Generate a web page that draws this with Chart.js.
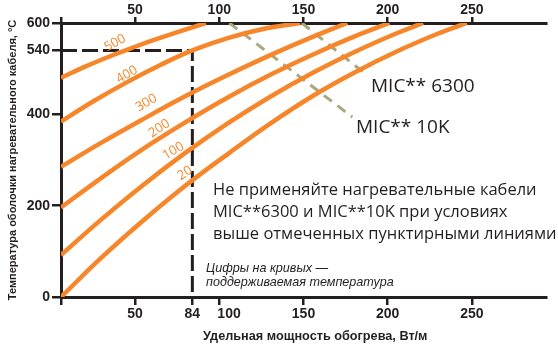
<!DOCTYPE html>
<html><head><meta charset="utf-8">
<script src="https://cdn.jsdelivr.net/npm/chart.js@4.4.1/dist/chart.umd.min.js"></script>
<style>html,body{margin:0;padding:0;background:#fff;}#wrap{width:558px;height:356px;}</style>
</head><body><div id="wrap"><canvas id="c" width="558" height="356"></canvas></div>
<script>
// ---- data ----
const maintainTemps = ['500', '400', '300', '200', '100', '20'];
const power500 = [6, 20, 37, 50, 63, 77, 92];
const temp500  = [480, 504, 530, 548, 565, 582, 600];
const power400 = [6, 25, 45, 65, 84, 105, 126, 148];
const temp400  = [384, 428, 470, 508, 540, 567, 587, 600];
const power300 = [6, 30, 55, 80, 105, 130, 155, 176];
const temp300  = [285, 338, 390, 440, 486, 529, 569, 600];
const power200 = [6, 30, 55, 80, 105, 130, 155, 180, 201];
const temp200  = [196, 261, 325, 383, 437, 486, 530, 570, 600];
const power100 = [6, 30, 55, 80, 105, 130, 155, 180, 205, 221];
const temp100  = [92, 170, 246, 316, 380, 438, 490, 536, 577, 600];
const power20  = [6, 30, 55, 80, 105, 130, 155, 180, 205, 230, 247];
const temp20   = [0, 86, 168, 244, 313, 379, 439, 491, 537, 577, 600];
const mic6300Power = [149, 187];
const mic6300Temp  = [600, 488];
const mic10kPower  = [106, 179];
const mic10kTemp   = [600, 394];
const guidePower = [6, 84, 84];
const guideTemp  = [540, 540, 0];
const xTicks  = [50, 84, 100, 150, 200, 250];
const x2Ticks = [50, 100, 150, 200, 250];
const yTicks  = [0, 200, 400, 540, 600];
const xMin = 6, xMax = 294, yMin = 0, yMax = 600;

// ---- styling / layout ----
const ORANGE = '#f7862a', OLIVE = '#aba77d', INK = '#231f20';
const labelAnchors = [ // [power, temp, angleDeg] for curve labels
  [38.1, 556, -28], [45.1, 487, -30], [56.7, 425, -31], [64.4, 369, -33], [72.7, 320, -31], [79.6, 271, -33]
];
const pts = (xs, ys) => xs.map((v, i) => ({x: v, y: ys[i]}));
const curves = [[power500,temp500],[power400,temp400],[power300,temp300],[power200,temp200],[power100,temp100],[power20,temp20]];

const datasets = curves.map((c, i) => ({
  label: maintainTemps[i], data: pts(c[0], c[1]), borderColor: ORANGE, borderWidth: 4.5,
  pointRadius: 0, tension: 0.4, fill: false
}));
datasets.push({label:'MIC** 6300', data: pts(mic6300Power, mic6300Temp), borderColor: OLIVE, borderWidth: 3, borderDash: [10, 7], pointRadius: 0});
datasets.push({label:'MIC** 10K', data: pts(mic10kPower, mic10kTemp), borderColor: OLIVE, borderWidth: 3, borderDash: [10, 7], pointRadius: 0});
datasets.push({label:'guide', data: pts(guidePower, guideTemp), borderColor: INK, borderWidth: 3, borderDash: [16, 5], pointRadius: 0, tension: 0});

const tickFont = {family: '"Liberation Sans", Arial, sans-serif', size: 14, weight: 'bold', lineHeight: 1};
const gridOpts = (len) => ({display: true, drawOnChartArea: false, drawTicks: true, tickLength: len, tickWidth: 2.5, tickColor: INK, color: INK, lineWidth: 2.5});
const setTicks = (arr) => (s) => { s.ticks = arr.map(v => ({value: v})); };

const annot = {
  id: 'annot',
  afterDatasetsDraw(chart) {
    const {ctx, scales: {x, y}} = chart;
    ctx.save();
    ctx.fillStyle = ORANGE;
    ctx.font = '13px "Open Sans", sans-serif';
    ctx.textAlign = 'center'; ctx.textBaseline = 'middle';
    labelAnchors.forEach((a, i) => {
      ctx.save();
      ctx.translate(x.getPixelForValue(a[0]), y.getPixelForValue(a[1]));
      ctx.rotate(a[2] * Math.PI / 180);
      ctx.fillText(maintainTemps[i], 0, 0);
      ctx.restore();
    });
    ctx.fillStyle = INK;
    ctx.textAlign = 'left'; ctx.textBaseline = 'alphabetic';
    ctx.font = '19px "Open Sans", sans-serif';
    ctx.fillText('MIC** 6300', 371, 92);
    ctx.fillText('MIC** 10K', 356, 133);
    ctx.font = '16.5px "Open Sans", sans-serif';
    ctx.fillText('Не применяйте нагревательные кабели', 213, 195);
    ctx.fillText('MIC**6300 и MIC**10K при условиях', 213, 217);
    ctx.fillText('выше отмеченных пунктирными линиями', 213, 239);
    ctx.font = 'italic 12.6px "Liberation Sans", Arial, sans-serif';
    ctx.fillText('Цифры на кривых —', 206, 272);
    ctx.fillText('поддерживаемая температура', 206, 286);
    ctx.font = 'bold 12.7px "Liberation Sans", Arial, sans-serif';
    ctx.fillText('Удельная мощность обогрева, Вт/м', 203, 340);
    ctx.restore();
  }
};

new Chart(document.getElementById('c'), {
  type: 'line',
  data: {datasets},
  plugins: [annot],
  options: {
    responsive: false, animation: false, devicePixelRatio: 1,
    layout: {padding: {left: 0, right: 12, top: 0, bottom: 0}},
    plugins: {legend: {display: false}, tooltip: {enabled: false}},
    scales: {
      x: {
        type: 'linear', position: 'bottom', min: xMin, max: xMax,
        afterBuildTicks: setTicks([xMin].concat(xTicks)),
        afterFit: s => { s.height = 59; },
        ticks: {font: tickFont, color: INK, padding: 2, maxRotation: 0, autoSkip: false,
          callback: v => v === xMin ? '' : (v === 100 ? '     100' : String(v))},
        grid: gridOpts(8),
        border: {display: true, color: INK, width: 3},
        title: {display: false}
      },
      x2: {
        type: 'linear', position: 'top', min: xMin, max: xMax,
        afterBuildTicks: setTicks([xMin].concat(x2Ticks)),
        afterFit: s => { s.height = 23; },
        ticks: {font: tickFont, color: INK, padding: 0, maxRotation: 0, autoSkip: false,
          callback: v => v === xMin ? '' : String(v)},
        grid: gridOpts(6),
        border: {display: true, color: INK, width: 3}
      },
      y: {
        type: 'linear', position: 'left', min: yMin, max: yMax,
        afterBuildTicks: setTicks(yTicks),
        afterFit: s => { s.width = 61; },
        ticks: {font: tickFont, color: INK, padding: 2, autoSkip: false, callback: v => String(v)},
        grid: gridOpts(9),
        border: {display: true, color: INK, width: 3},
        title: {display: true, text: 'Температура оболочки нагревательного кабеля, °С', color: INK,
          font: {family: '"Liberation Sans", Arial, sans-serif', size: 11, weight: 'bold'}, padding: {top: 6, bottom: 0}}
      }
    }
  }
});
</script></body></html>
